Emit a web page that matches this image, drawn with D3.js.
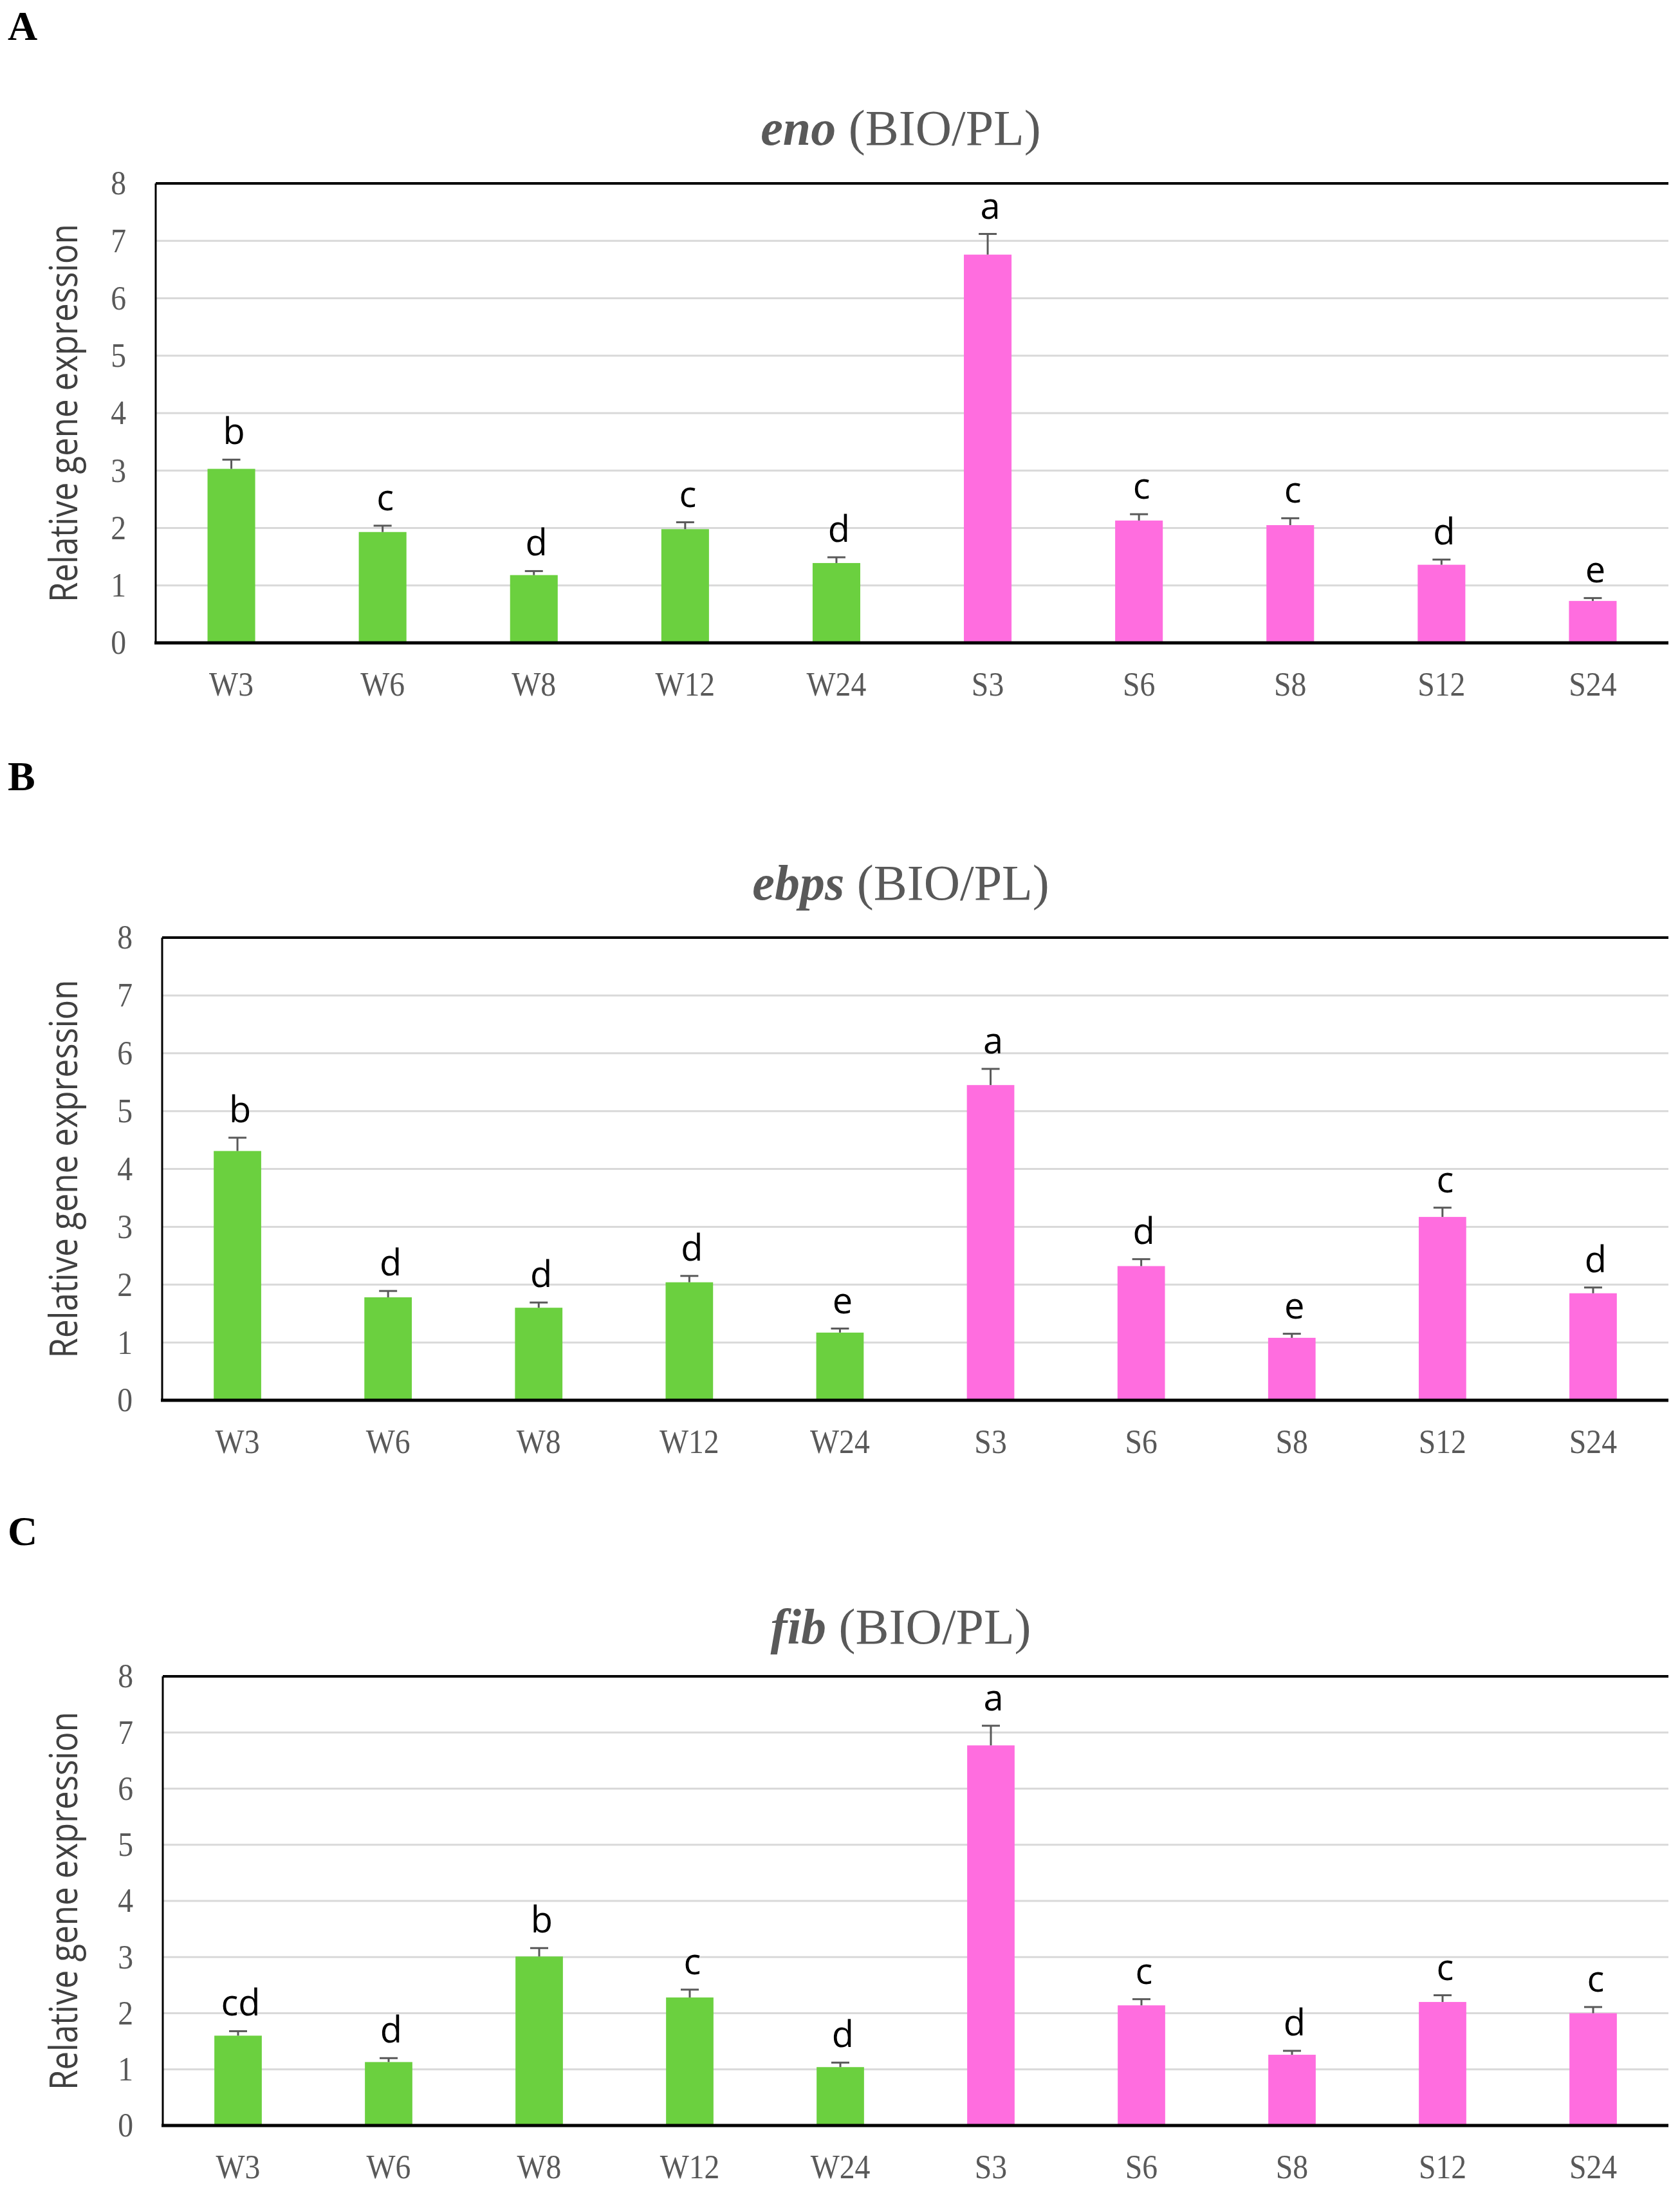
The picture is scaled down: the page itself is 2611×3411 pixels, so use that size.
<!DOCTYPE html>
<html>
<head>
<meta charset="utf-8">
<script src="https://cdn.jsdelivr.net/npm/d3@7/dist/d3.min.js"></script>
<style>
  html, body { margin: 0; padding: 0; background: #fff; }
  svg { display: block; }
</style>
</head>
<body>
<script>
// sampling points, W = one group (green), S = the other (pink)
var categories = ["W3", "W6", "W8", "W12", "W24", "S3", "S6", "S8", "S12", "S24"];
var yTicks = [0, 1, 2, 3, 4, 5, 6, 7, 8];

var enoMean    = [3.03, 1.93, 1.18, 1.98, 1.39, 6.76, 2.13, 2.05, 1.36, 0.73];
var enoErr     = [0.16, 0.11, 0.07, 0.12, 0.10, 0.36, 0.11, 0.12, 0.09, 0.05];
var enoLetters = ["b", "c", "d", "c", "d", "a", "c", "c", "d", "e"];

var ebpsMean    = [4.31, 1.78, 1.60, 2.04, 1.17, 5.45, 2.32, 1.08, 3.17, 1.85];
var ebpsErr     = [0.23, 0.11, 0.09, 0.11, 0.07, 0.28, 0.12, 0.07, 0.16, 0.10];
var ebpsLetters = ["b", "d", "d", "d", "e", "a", "d", "e", "c", "d"];

var fibMean    = [1.60, 1.13, 3.01, 2.28, 1.04, 6.77, 2.14, 1.26, 2.20, 2.00];
var fibErr     = [0.08, 0.07, 0.15, 0.14, 0.08, 0.35, 0.11, 0.07, 0.12, 0.11];
var fibLetters = ["cd", "d", "b", "c", "d", "a", "c", "d", "c", "c"];

var W = 2611, H = 3411;
var right = 2593;
var serif = "'Liberation Serif', 'Times New Roman', serif";
var sans = "'Open Sans', 'Noto Sans', sans-serif";
var grey = "#595959";
var green = "#6bd03f", pink = "#ff6ddf";

var panels = [
    {tag: "A", gene: "eno", mean: enoMean, err: enoErr, letters: enoLetters,
     tagY: 62, titleY: 225, top: 285, bottom: 999, left: 242},
    {tag: "B", gene: "ebps", mean: ebpsMean, err: ebpsErr, letters: ebpsLetters,
     tagY: 1228, titleY: 1398, top: 1457, bottom: 2176, left: 252},
    {tag: "C", gene: "fib", mean: fibMean, err: fibErr, letters: fibLetters,
     tagY: 2401, titleY: 2554, top: 2605, bottom: 3303, left: 253}
];

var svg = d3.select("body").append("svg")
    .attr("width", W)
    .attr("height", H);

// the original looks a bit narrow, squeeze text horizontally
function squeeze(sel, f) {
    sel.each(function () {
        var len = this.getComputedTextLength();
        d3.select(this).attr("textLength", len * f).attr("lengthAdjust", "spacingAndGlyphs");
    });
}

panels.forEach(function (p) {
    var g = svg.append("g");

    var x = d3.scaleBand()
        .domain(categories)
        .range([p.left, right])
        .paddingInner(0.685)
        .paddingOuter(0.685 / 2);

    var y = d3.scaleLinear()
        .domain([0, 8])
        .range([p.bottom, p.top]);

    // panel letter
    g.append("text")
        .attr("x", 12)
        .attr("y", p.tagY)
        .style("font-family", serif)
        .style("font-weight", "bold")
        .style("font-size", "64px")
        .style("fill", "#000")
        .text(p.tag);

    // title
    var title = g.append("text")
        .attr("x", 1400)
        .attr("y", p.titleY)
        .attr("text-anchor", "middle")
        .style("font-family", serif)
        .style("font-size", "78px")
        .style("fill", grey);
    title.append("tspan").style("font-weight", "bold").style("font-style", "italic").text(p.gene);
    title.append("tspan").text(" (BIO/PL)");

    // gridlines
    g.append("g")
        .selectAll("line")
        .data(yTicks.slice(1, -1))
        .enter()
        .append("line")
        .attr("x1", p.left)
        .attr("x2", right)
        .attr("y1", function (d) { return y(d); })
        .attr("y2", function (d) { return y(d); })
        .style("stroke", "#d9d9d9")
        .style("stroke-width", 3);

    // y axis (labels only, frame drawn below)
    var yAxis = g.append("g")
        .attr("transform", "translate(" + p.left + ",0)")
        .call(d3.axisLeft(y).tickValues(yTicks).tickSize(0).tickPadding(46));
    yAxis.select(".domain").remove();
    yAxis.selectAll("text")
        .style("font-family", serif)
        .style("font-size", "53px")
        .style("fill", grey)
        .call(squeeze, 0.9);

    // x axis labels
    var xAxis = g.append("g")
        .attr("transform", "translate(0," + p.bottom + ")")
        .call(d3.axisBottom(x).tickSize(0).tickPadding(44));
    xAxis.select(".domain").remove();
    xAxis.selectAll("text")
        .style("font-family", serif)
        .style("font-size", "53px")
        .style("fill", grey)
        .call(squeeze, 0.9);

    // y label
    g.append("text")
        .attr("transform", "translate(120," + (p.top + p.bottom) / 2 + ") rotate(-90)")
        .attr("text-anchor", "middle")
        .style("font-family", sans)
        .style("font-size", "60px")
        .style("fill", "#404040")
        .attr("textLength", 588)
        .attr("lengthAdjust", "spacingAndGlyphs")
        .text("Relative gene expression");

    // bars
    g.append("g")
        .selectAll("rect")
        .data(categories)
        .enter()
        .append("rect")
        .attr("x", function (d) { return x(d); })
        .attr("width", x.bandwidth())
        .attr("y", function (d, i) { return y(p.mean[i]); })
        .attr("height", function (d, i) { return y(0) - y(p.mean[i]); })
        .style("fill", function (d) { return d.charAt(0) === "W" ? green : pink; });

    // error bars, upper whisker only
    var eb = g.append("g")
        .selectAll("g")
        .data(categories)
        .enter()
        .append("g")
        .style("stroke", grey)
        .style("stroke-width", 3);
    eb.append("line")
        .attr("x1", function (d) { return x(d) + x.bandwidth() / 2; })
        .attr("x2", function (d) { return x(d) + x.bandwidth() / 2; })
        .attr("y1", function (d, i) { return y(p.mean[i]); })
        .attr("y2", function (d, i) { return y(p.mean[i] + p.err[i]); });
    eb.append("line")
        .attr("x1", function (d) { return x(d) + x.bandwidth() / 2 - 14; })
        .attr("x2", function (d) { return x(d) + x.bandwidth() / 2 + 14; })
        .attr("y1", function (d, i) { return y(p.mean[i] + p.err[i]); })
        .attr("y2", function (d, i) { return y(p.mean[i] + p.err[i]); });

    // significance letters
    g.append("g")
        .selectAll("text")
        .data(categories)
        .enter()
        .append("text")
        .attr("x", function (d) { return x(d) + x.bandwidth() / 2 + 4; })
        .attr("y", function (d, i) { return y(p.mean[i] + p.err[i]) - 24; })
        .attr("text-anchor", "middle")
        .style("font-family", sans)
        .style("font-size", "56px")
        .style("fill", "#000")
        .text(function (d, i) { return p.letters[i]; });

    // frame: left, top, bottom
    g.append("line")
        .attr("x1", p.left).attr("x2", right)
        .attr("y1", p.top).attr("y2", p.top)
        .style("stroke", "#000").style("stroke-width", 4);
    g.append("line")
        .attr("x1", p.left).attr("x2", p.left)
        .attr("y1", p.top).attr("y2", p.bottom)
        .style("stroke", "#000").style("stroke-width", 3);
    g.append("line")
        .attr("x1", p.left - 2).attr("x2", right)
        .attr("y1", p.bottom).attr("y2", p.bottom)
        .style("stroke", "#000").style("stroke-width", 5);
});
</script>
</body>
</html>
